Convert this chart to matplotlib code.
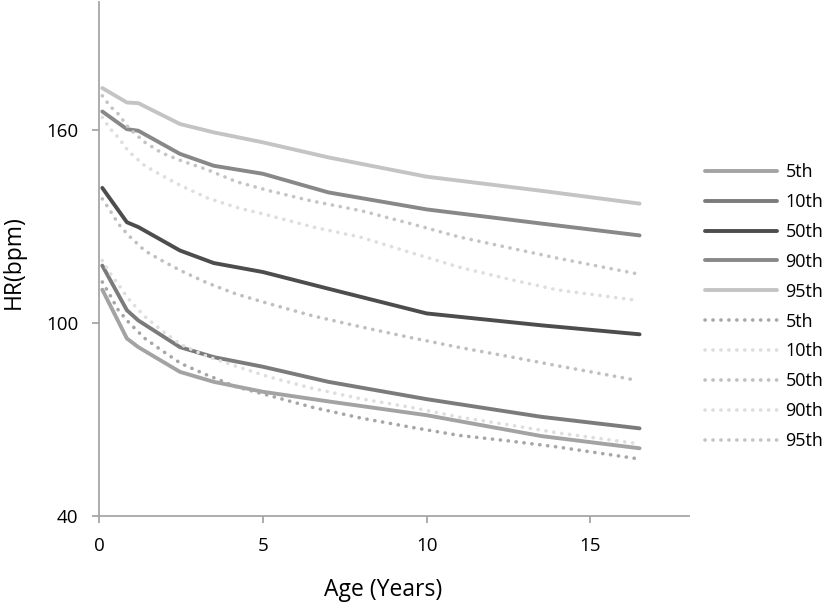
import matplotlib
matplotlib.use("Agg")
import matplotlib.pyplot as plt

plt.rcParams["font.family"] = ["Open Sans", "DejaVu Sans"]

# solid centile lines (reference data)
age_solid = [0.1, 0.85, 1.2, 2.47, 3.5, 5.0, 7.0, 10.0, 13.5, 16.5]
solid_5th = [110.4, 95.2, 92.5, 84.8, 81.7, 78.6, 75.6, 71.3, 64.8, 61.0]
solid_10th = [117.9, 104.0, 100.8, 92.5, 89.4, 86.4, 81.7, 76.3, 70.8, 67.2]
solid_50th = [142.1, 131.4, 129.9, 122.6, 118.7, 115.9, 110.7, 103.0, 99.3, 96.5]
solid_90th = [165.9, 160.4, 159.9, 152.7, 149.0, 146.5, 140.7, 135.4, 131.0, 127.3]
solid_95th = [173.2, 168.7, 168.5, 162.0, 159.4, 156.3, 151.6, 145.6, 141.2, 137.2]

# dotted centile lines (comparison data)
age_dot = [0.1, 0.34, 0.59, 0.9, 1.4, 1.91, 2.5, 3.3, 4.2, 5.2, 6.5, 8.0, 9.5, 11.0, 12.5, 14.0, 16.4]
dot_5th = [112.8, 108.6, 104.0, 100.3, 95.2, 91.5, 87.4, 83.8, 80.1, 77.4, 73.8, 70.4, 67.6, 65.0, 63.3, 61.4, 57.8]
dot_10th = [119.5, 115.5, 112.0, 107.5, 102.0, 97.7, 93.3, 89.6, 86.5, 83.2, 79.7, 76.4, 73.8, 70.7, 68.3, 65.8, 62.5]
dot_50th = [138.7, 135.0, 130.9, 127.3, 122.5, 119.5, 116.3, 112.5, 109.0, 106.0, 102.3, 98.8, 95.5, 92.4, 89.6, 86.7, 82.2]
dot_90th = [164.1, 160.5, 157.8, 153.5, 149.0, 146.0, 142.8, 139.0, 136.0, 133.5, 130.0, 126.7, 122.0, 117.4, 113.7, 110.3, 107.1]
dot_95th = [170.8, 167.5, 165.1, 160.8, 156.3, 153.0, 150.6, 147.8, 144.0, 141.2, 138.0, 135.0, 131.0, 126.8, 123.5, 120.2, 115.4]

labels = ["5th", "10th", "50th", "90th", "95th"]
solid_colors = ["#a3a3a3", "#7b7b7b", "#4d4d4d", "#888888", "#c4c4c4"]
dot_colors = ["#a6a6a6", "#dedede", "#bfbfbf", "#dedede", "#c4c4c4"]

fig = plt.figure(figsize=(8.26, 6.08), dpi=100)
ax = fig.add_axes([0.1199, 0.1518, 0.7139, 0.8449])

for ys, col, lab in zip([solid_5th, solid_10th, solid_50th, solid_90th, solid_95th],
                        solid_colors, labels):
    ax.plot(age_solid, ys, color=col, lw=2.8, solid_capstyle="round",
            solid_joinstyle="round", label=lab)

for ys, col, lab in zip([dot_5th, dot_10th, dot_50th, dot_90th, dot_95th],
                        dot_colors, labels):
    ax.plot(age_dot, ys, color=col, lw=2.6, linestyle=(0, (0.05, 2.15)),
            dash_capstyle="round", label=lab)

ax.set_xlim(0, 18)
ax.set_ylim(40, 200)
ax.set_xticks([0, 5, 10, 15])
ax.set_yticks([40, 100, 160])

for side in ["top", "right"]:
    ax.spines[side].set_visible(False)
for side in ["left", "bottom"]:
    ax.spines[side].set_color("#a6a6a6")
    ax.spines[side].set_linewidth(1.3)
ax.tick_params(direction="out", length=5, width=1.3, color="#a6a6a6",
               labelsize=13.5, pad=10)

fig.text(383 / 826, 1 - 590 / 608, "Age (Years)", ha="center", va="center",
         fontsize=16.5)
fig.text(14 / 826, 1 - 262 / 608, "HR(bpm)", ha="center", va="center",
         rotation=90, fontsize=16.5)

fig.legend(loc="upper left", bbox_to_anchor=(705 / 826, 1 - 163 / 608),
           frameon=False, fontsize=13, handlelength=4.0, handletextpad=0.45,
           labelspacing=0.66, borderaxespad=0, borderpad=0)

fig.savefig("out.png", dpi=100)
